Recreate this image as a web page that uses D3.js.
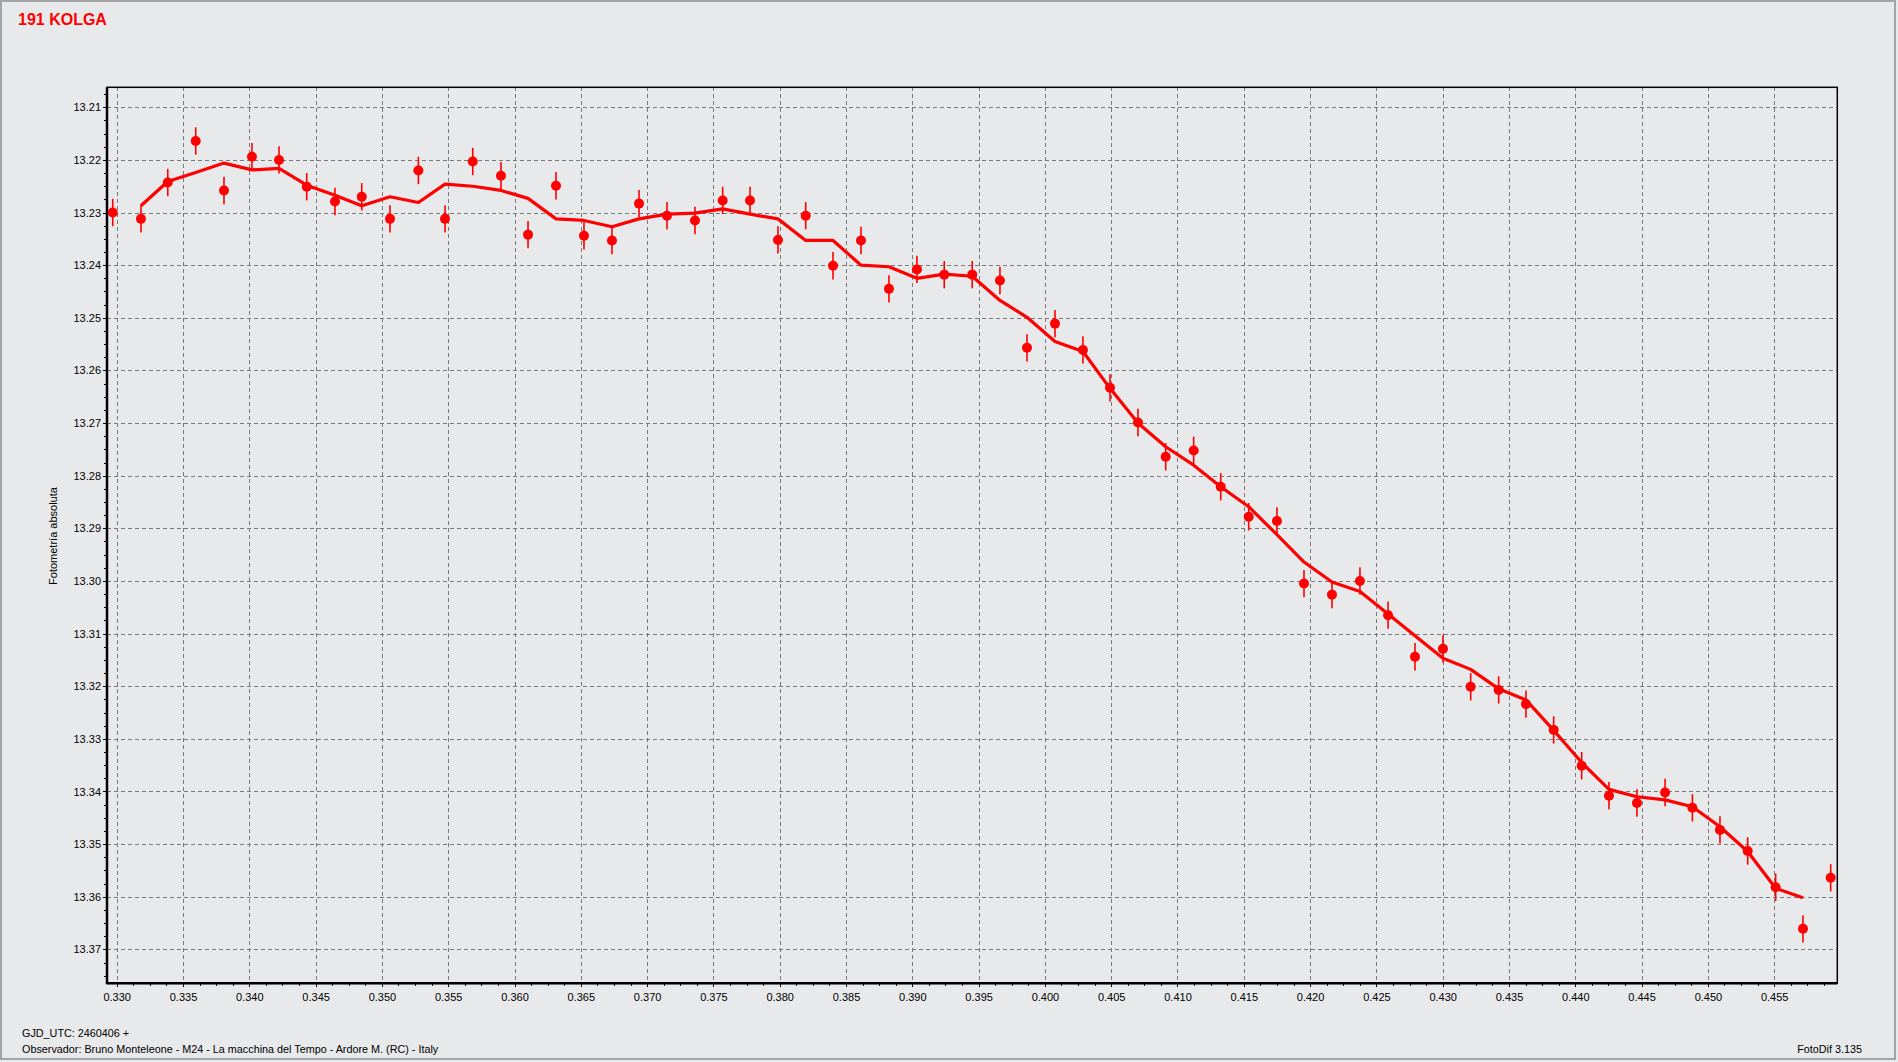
<!DOCTYPE html>
<html>
<head>
<meta charset="utf-8">
<script src="https://cdn.jsdelivr.net/npm/d3@7"></script>
<style>
  html, body { margin: 0; padding: 0; background: #e8e9eb; }
  svg { display: block; }
  text { font-family: "Liberation Sans", Arial, sans-serif; }
</style>
</head>
<body>
<svg id="chart" width="1898" height="1062"></svg>
<script>
// ---- data ----
const title = "191 KOLGA";
const yAxisLabel = "Fotometría absoluta";
const footerLine1 = "GJD_UTC: 2460406 +";
const footerLine2 = "Observador: Bruno Monteleone - M24 - La macchina del Tempo - Ardore M. (RC) - Italy";
const softwareLabel = "FotoDif 3.135";

// time (fraction of day after GJD 2460406)
const times = [
  0.32970, 0.33183, 0.33385, 0.33596, 0.33809, 0.34020, 0.34224, 0.34433, 0.34646, 0.34848,
  0.35061, 0.35275, 0.35476, 0.35685, 0.35898, 0.36102, 0.36313, 0.36524, 0.36735, 0.36939,
  0.37150, 0.37361, 0.37570, 0.37776, 0.37987, 0.38196, 0.38402, 0.38613, 0.38824, 0.39035,
  0.39241, 0.39452, 0.39661, 0.39865, 0.40076, 0.40287, 0.40491, 0.40702, 0.40911, 0.41122,
  0.41326, 0.41537, 0.41750, 0.41954, 0.42165, 0.42376, 0.42588, 0.42791, 0.43002, 0.43211,
  0.43422, 0.43628, 0.43837, 0.44048, 0.44254, 0.44465, 0.44677, 0.44883, 0.45091, 0.45300,
  0.45511, 0.45717, 0.45926
];
// absolute magnitude of each measurement
const mags = [
  13.2300, 13.2312, 13.2243, 13.2164, 13.2258, 13.2194, 13.2200, 13.2251, 13.2279, 13.2270,
  13.2312, 13.2220, 13.2312, 13.2203, 13.2230, 13.2342, 13.2249, 13.2344, 13.2353, 13.2283,
  13.2306, 13.2315, 13.2277, 13.2277, 13.2352, 13.2306, 13.2401, 13.2353, 13.2445, 13.2408,
  13.2418, 13.2418, 13.2429, 13.2557, 13.2511, 13.2561, 13.2633, 13.2699, 13.2764, 13.2752,
  13.2821, 13.2878, 13.2886, 13.3005, 13.3026, 13.3000, 13.3065, 13.3144, 13.3129, 13.3201,
  13.3207, 13.3234, 13.3283, 13.3351, 13.3408, 13.3422, 13.3402, 13.3431, 13.3473, 13.3513,
  13.3582, 13.3661, 13.3564
];
// smoothed curve, one value for each measurement from the 2nd to the 62nd
const trendMags = [
  13.2287, 13.2241, 13.2224, 13.2206, 13.2219, 13.2216, 13.2248, 13.2267, 13.2287,
  13.2270, 13.2281, 13.2246, 13.2250, 13.2258, 13.2273, 13.2312, 13.2315, 13.2327, 13.2312,
  13.2303, 13.2301, 13.2293, 13.2303, 13.2312, 13.2353, 13.2353, 13.2400, 13.2403, 13.2425,
  13.2417, 13.2421, 13.2467, 13.2499, 13.2545, 13.2564, 13.2634, 13.2700, 13.2745, 13.2780,
  13.2821, 13.2859, 13.2912, 13.2964, 13.3002, 13.3020, 13.3063, 13.3104, 13.3147, 13.3168,
  13.3205, 13.3226, 13.3284, 13.3345, 13.3396, 13.3410, 13.3416, 13.3429, 13.3467, 13.3514,
  13.3584, 13.3602
];
const magError = 0.0026;

const xTickValues = [0.330, 0.335, 0.340, 0.345, 0.350, 0.355, 0.360, 0.365, 0.370, 0.375,
  0.380, 0.385, 0.390, 0.395, 0.400, 0.405, 0.410, 0.415, 0.420, 0.425, 0.430, 0.435, 0.440,
  0.445, 0.450, 0.455];
const yTickValues = [13.21, 13.22, 13.23, 13.24, 13.25, 13.26, 13.27, 13.28, 13.29, 13.30,
  13.31, 13.32, 13.33, 13.34, 13.35, 13.36, 13.37];

// ---- layout ----
const W = 1898, H = 1062;
const plot = { left: 107, right: 1837.3, top: 87.3, bottom: 983.3 };
const RED = "#ff0000";
const GRID = "#7a7a7a";

const svg = d3.select("#chart");

svg.append("rect").attr("x", 0).attr("y", 0).attr("width", W).attr("height", H).attr("fill", "#e8e9eb");
// window frame
svg.append("rect").attr("x", 1).attr("y", 1).attr("width", 1894).attr("height", 1058)
  .attr("fill", "none").attr("stroke", "#a3a3a3").attr("stroke-width", 2);

const x = d3.scaleLinear().domain([0.329268, 0.459759]).range([plot.left, plot.right]);
const y = d3.scaleLinear().domain([13.2062, 13.37645]).range([plot.top, plot.bottom]);

// title
svg.append("text").attr("x", 18).attr("y", 25).attr("fill", RED)
  .attr("font-size", 16).attr("font-weight", "bold").text(title);

// grid
const g = svg.append("g");
g.selectAll(".vgrid").data(xTickValues).join("line")
  .attr("x1", d => Math.round(x(d)) + 0.5).attr("x2", d => Math.round(x(d)) + 0.5)
  .attr("y1", plot.top).attr("y2", plot.bottom)
  .attr("stroke", GRID).attr("stroke-dasharray", "4,3").attr("stroke-width", 1)
  .attr("shape-rendering", "crispEdges");
g.selectAll(".hgrid").data(yTickValues).join("line")
  .attr("x1", plot.left).attr("x2", plot.right)
  .attr("y1", d => Math.round(y(d)) + 0.5).attr("y2", d => Math.round(y(d)) + 0.5)
  .attr("stroke", GRID).attr("stroke-dasharray", "4,3").attr("stroke-width", 1)
  .attr("shape-rendering", "crispEdges");

// axes
const yMinor = d3.range(13.2075, 13.376, 0.0025);
const xMinor = d3.range(0.32875, 0.4597, 0.00125).filter(v => v >= 0.32927 && v <= 0.45976);

const yAxisMinor = svg.append("g").attr("transform", `translate(${plot.left},0)`)
  .call(d3.axisLeft(y).tickValues(yMinor).tickSize(3).tickFormat(""));
const yAxis = svg.append("g").attr("transform", `translate(${plot.left},0)`)
  .call(d3.axisLeft(y).tickValues(yTickValues).tickSize(4).tickPadding(2).tickFormat(d3.format(".2f")));
const xAxisMinor = svg.append("g").attr("transform", `translate(0,${plot.bottom})`)
  .call(d3.axisBottom(x).tickValues(xMinor).tickSize(3).tickFormat(""));
const xAxis = svg.append("g").attr("transform", `translate(0,${plot.bottom})`)
  .call(d3.axisBottom(x).tickValues(xTickValues).tickSize(4).tickPadding(6).tickFormat(d3.format(".3f")));

[yAxisMinor, yAxis, xAxisMinor, xAxis].forEach(a => {
  a.select(".domain").remove();
  a.selectAll("line").attr("stroke", "#000").attr("shape-rendering", "crispEdges");
  a.selectAll("text").attr("fill", "#000").attr("font-size", 11)
    .attr("font-family", "'Liberation Sans', Arial, sans-serif");
});

// plot frame
svg.append("rect").attr("x", plot.left).attr("y", plot.top)
  .attr("width", plot.right - plot.left).attr("height", plot.bottom - plot.top)
  .attr("fill", "none").attr("stroke", "#000").attr("stroke-width", 1.5);
svg.append("line").attr("x1", plot.left).attr("x2", plot.left).attr("y1", plot.top).attr("y2", plot.bottom + 1)
  .attr("stroke", "#000").attr("stroke-width", 2.5);
svg.append("line").attr("x1", plot.left).attr("x2", plot.right).attr("y1", plot.bottom).attr("y2", plot.bottom)
  .attr("stroke", "#000").attr("stroke-width", 2.5);

// data
const pts = times.map((t, i) => ({ t, m: mags[i] }));
const trend = trendMags.map((m, i) => ({ t: times[i + 1], m }));

svg.append("path").datum(trend)
  .attr("d", d3.line().x(d => x(d.t)).y(d => y(d.m)))
  .attr("fill", "none").attr("stroke", RED).attr("stroke-width", 3.2)
  .attr("stroke-linejoin", "round");

svg.selectAll(".err").data(pts).join("line")
  .attr("x1", d => x(d.t)).attr("x2", d => x(d.t))
  .attr("y1", d => y(d.m - magError)).attr("y2", d => y(d.m + magError))
  .attr("stroke", RED).attr("stroke-width", 1.6);
svg.selectAll(".dot").data(pts).join("circle")
  .attr("cx", d => x(d.t)).attr("cy", d => y(d.m)).attr("r", 5)
  .attr("fill", RED);

// y-axis label
svg.append("text").attr("transform", "translate(57,536) rotate(-90)")
  .attr("text-anchor", "middle").attr("font-size", 11).attr("fill", "#000").text(yAxisLabel);

// footer
svg.append("text").attr("x", 22).attr("y", 1037).attr("font-size", 10.8).attr("fill", "#000").text(footerLine1);
svg.append("text").attr("x", 22).attr("y", 1053).attr("font-size", 10.8).attr("fill", "#000").text(footerLine2);
svg.append("text").attr("x", 1862).attr("y", 1053).attr("text-anchor", "end")
  .attr("font-size", 10.8).attr("fill", "#000").text(softwareLabel);
</script>
</body>
</html>
